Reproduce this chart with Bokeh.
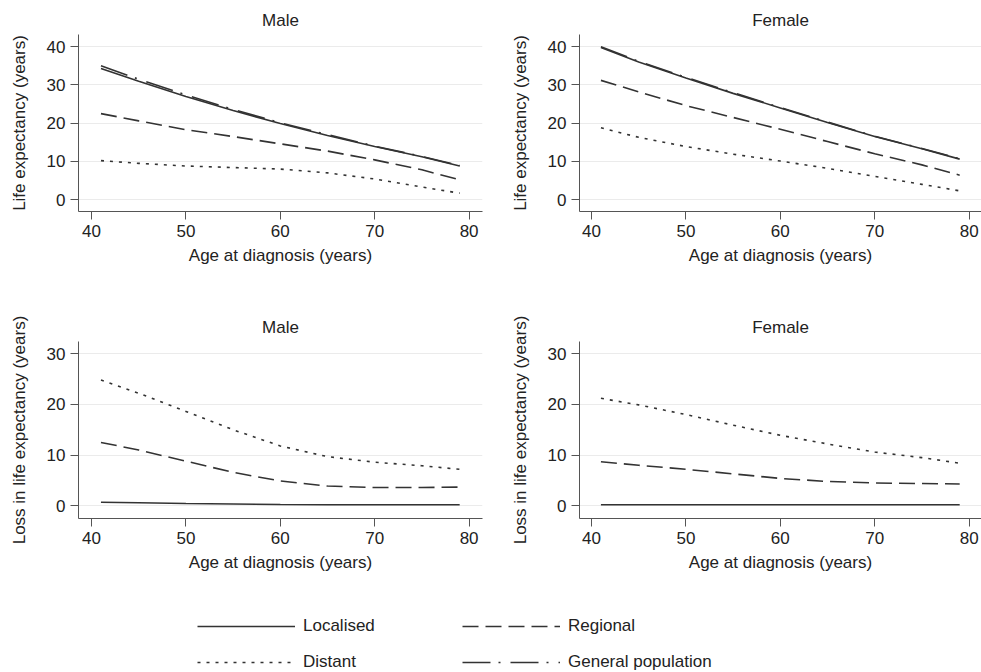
from bokeh.plotting import figure
from bokeh.layouts import column, row
from bokeh.models import Range1d, FixedTicker, Legend, LegendItem
from bokeh.embed import file_html
from bokeh.resources import INLINE

# ---------------- data ----------------
age = [41, 45, 50, 55, 60, 65, 70, 75, 79]

# Life expectancy (years) - Male
le_m_localised = [34.3, 31.0, 27.0, 23.3, 19.9, 16.8, 13.9, 11.2, 8.8]
le_m_regional = [22.5, 20.6, 18.3, 16.5, 14.6, 12.7, 10.4, 7.8, 5.2]
le_m_distant = [10.2, 9.5, 8.8, 8.4, 8.0, 7.0, 5.4, 3.3, 1.7]
le_m_genpop = [35.0, 31.5, 27.4, 23.6, 20.1, 17.0, 14.0, 11.3, 8.9]

# Life expectancy (years) - Female
le_f_localised = [39.8, 36.0, 31.8, 27.8, 24.0, 20.2, 16.5, 13.3, 10.6]
le_f_regional = [31.2, 28.2, 24.6, 21.5, 18.4, 15.2, 12.0, 9.1, 6.4]
le_f_distant = [18.8, 16.3, 13.9, 11.9, 10.1, 8.2, 6.1, 4.0, 2.3]
le_f_genpop = [40.0, 36.2, 32.0, 28.0, 24.1, 20.3, 16.6, 13.4, 10.7]

# Loss in life expectancy (years) - Male
loss_m_localised = [0.7, 0.6, 0.45, 0.35, 0.25, 0.2, 0.2, 0.2, 0.2]
loss_m_regional = [12.5, 11.0, 8.8, 6.6, 4.9, 3.9, 3.6, 3.6, 3.7]
loss_m_distant = [24.8, 22.2, 18.6, 15.0, 11.8, 9.7, 8.6, 7.9, 7.2]

# Loss in life expectancy (years) - Female
loss_f_localised = [0.2, 0.2, 0.2, 0.2, 0.2, 0.2, 0.2, 0.2, 0.2]
loss_f_regional = [8.7, 8.0, 7.2, 6.3, 5.4, 4.8, 4.5, 4.4, 4.3]
loss_f_distant = [21.2, 19.9, 18.0, 15.9, 13.9, 12.2, 10.6, 9.5, 8.4]

x_ticks = [40, 50, 60, 70, 80]
le_ticks = [0, 10, 20, 30, 40]
loss_ticks = [0, 10, 20, 30]

series_names = ["Localised", "Regional", "Distant", "General population"]

# ---------------- styles ----------------
FONT = "Liberation Sans"
FS = "17px"
LINE_COLOR = "#333333"
STYLES = {
    "Localised": dict(line_dash="solid"),
    "Regional": dict(line_dash="16 7"),
    "Distant": dict(line_dash="3 6"),
    "General population": dict(line_dash="28 8 2 10"),
}


def make_panel(title, ylabel, yticks, yrange, xrange, series, left, right, top, bottom, fw):
    p = figure(
        frame_width=fw, frame_height=177,
        min_border_left=left, min_border_right=right,
        min_border_top=top, min_border_bottom=bottom,
        x_range=Range1d(*xrange), y_range=Range1d(*yrange),
        toolbar_location=None, output_backend="svg",
        title=title,
    )
    p.title.align = "center"
    p.title.text_font = FONT
    p.title.text_font_size = FS
    p.title.text_font_style = "normal"
    p.title.text_color = "#222222"
    p.outline_line_color = None
    p.background_fill_color = "white"
    p.border_fill_color = "white"

    p.xgrid.visible = False
    p.ygrid.grid_line_color = "#ebebeb"
    p.ygrid.grid_line_width = 1
    p.ygrid.ticker = FixedTicker(ticks=yticks)

    p.xaxis.ticker = FixedTicker(ticks=x_ticks)
    p.yaxis.ticker = FixedTicker(ticks=yticks)
    p.xaxis.axis_label = "Age at diagnosis (years)"
    p.yaxis.axis_label = ylabel
    for ax in (p.xaxis[0], p.yaxis[0]):
        ax.axis_line_color = "#555555"
        ax.major_tick_line_color = "#555555"
        ax.major_tick_out = 8
        ax.major_tick_in = 0
        ax.minor_tick_line_color = None
        ax.major_label_text_font = FONT
        ax.major_label_text_font_size = FS
        ax.major_label_text_color = "#222222"
        ax.axis_label_text_font = FONT
        ax.axis_label_text_font_size = FS
        ax.axis_label_text_font_style = "normal"
        ax.axis_label_text_color = "#222222"
        ax.major_label_standoff = 5
    p.xaxis.axis_label_standoff = 6
    p.yaxis.axis_label_standoff = 15
    p.yaxis.major_label_orientation = "horizontal"

    for name, ys in series:
        p.line(age, ys, line_color=LINE_COLOR, line_width=1.6, **STYLES[name])
    return p


XR_L = (38.62, 81.42)
XR_R = (38.73, 81.31)

p1 = make_panel("Male", "Life expectancy (years)", le_ticks, (-3.1, 43.2), XR_L,
                [("Localised", le_m_localised), ("General population", le_m_genpop),
                 ("Regional", le_m_regional), ("Distant", le_m_distant)],
                78, 8, 34, 96, 404)
p2 = make_panel("Female", "Life expectancy (years)", le_ticks, (-3.1, 43.2), XR_R,
                [("Localised", le_f_localised), ("General population", le_f_genpop),
                 ("Regional", le_f_regional), ("Distant", le_f_distant)],
                89, 0, 34, 96, 402)
p3 = make_panel("Male", "Loss in life expectancy (years)", loss_ticks, (-2.5, 32.4), XR_L,
                [("Localised", loss_m_localised), ("Regional", loss_m_regional),
                 ("Distant", loss_m_distant)],
                78, 8, 34, 69, 404)
p4 = make_panel("Female", "Loss in life expectancy (years)", loss_ticks, (-2.5, 32.4), XR_R,
                [("Localised", loss_f_localised), ("Regional", loss_f_regional),
                 ("Distant", loss_f_distant)],
                89, 0, 34, 69, 402)

# ---------------- legend ----------------
# Legend-only figure: the series are placed off-screen (range far from data),
# only their legend swatches are visible.
lf = figure(frame_width=981, frame_height=85, min_border=0,
            x_range=Range1d(-10, -5), y_range=Range1d(-10, -5),
            toolbar_location=None, output_backend="svg",
            x_axis_location=None, y_axis_location=None)
lf.outline_line_color = None
lf.grid.visible = False

legend_series = {
    "Localised": le_m_localised,
    "Regional": le_m_regional,
    "Distant": le_m_distant,
    "General population": le_m_genpop,
}
rends = {}
for name in series_names:
    rends[name] = lf.line(age, legend_series[name], line_color=LINE_COLOR,
                          line_width=1.6, **STYLES[name])


def make_legend(names, loc):
    lg = Legend(items=[LegendItem(label=n, renderers=[rends[n]]) for n in names],
                location=loc, orientation="vertical")
    lg.glyph_width = 98
    lg.glyph_height = 20
    lg.label_height = 20
    lg.label_standoff = 8
    lg.spacing = 16
    lg.padding = 0
    lg.margin = 0
    lg.border_line_color = None
    lg.background_fill_alpha = 0
    lg.label_text_font = FONT
    lg.label_text_font_size = FS
    lg.label_text_color = "#222222"
    return lg


lf.add_layout(make_legend(["Localised", "Distant"], (197, 0)))
lf.add_layout(make_legend(["Regional", "General population"], (462, 0)))

layout = column(row(p1, p2), row(p3, p4), lf)

open("out.html", "w").write(file_html(layout, INLINE))
